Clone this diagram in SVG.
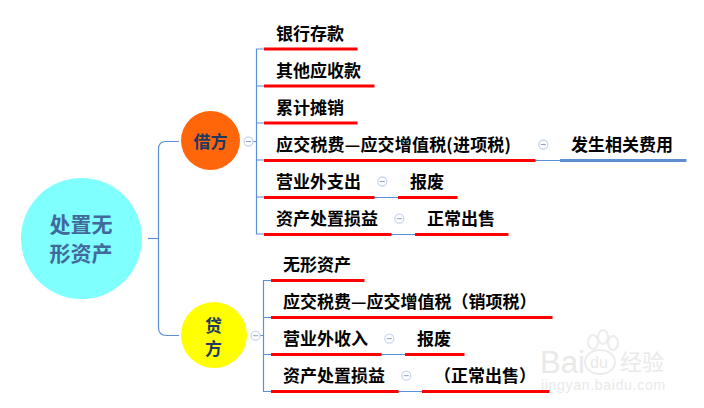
<svg xmlns="http://www.w3.org/2000/svg" width="704" height="408" viewBox="0 0 704 408">
<style>
text{font-family:"Noto Sans CJK SC","Liberation Sans",sans-serif;font-weight:700;font-size:17px;fill:#000}
.c{fill:none;stroke:#5b8fd8;stroke-width:1.2}
.r{fill:none;stroke:#ff0000;stroke-width:3}
.b{fill:none;stroke:#5b8fd0;stroke-width:3}
.i{fill:#fff;stroke:#c9d6f0;stroke-width:1.3}
.m{stroke:#8e9fc4;stroke-width:1}
.w{font-family:"Liberation Sans",sans-serif;fill:#e9e9e9;font-weight:400}
</style>
<defs>
<g id="minus"><circle class="i" r="4.5"/><line class="m" x1="-2.5" x2="2.5" y1="0" y2="0"/></g>
</defs>
<rect width="704" height="408" fill="#fff"/>
<g id="connectors">
<path class="c" d="M179 141.500H166Q158.500 141.500 158.500 149V327.500Q158.500 335.500 166.500 335.500H179"/>
<path class="c" d="M148 238.500H158.500"/>
<path class="c" d="M244 141.500H256.500M264 49H256.500V234H264M256.500 86H264M256.500 123H264M256.500 160H264M256.500 197H264"/>
<path class="c" d="M535 160.500H560M374 197.500H398M391 234.500H415"/>
<path class="c" d="M251 335.500H263.500M271 280.500H263.500V391.500H271M263.500 317.500H271M263.500 354.500H271"/>
<path class="c" d="M381 354.500H405M398 391.500H422"/>
</g>
<g id="watermark">
<ellipse cx="593" cy="342" rx="5" ry="7" fill="none" stroke="#ececec" stroke-width="2"/>
<ellipse cx="603" cy="337" rx="5" ry="7" fill="none" stroke="#ececec" stroke-width="2"/>
<ellipse cx="613" cy="343" rx="5" ry="7" fill="none" stroke="#ececec" stroke-width="2"/>
<text class="w" x="540" y="373" style="font-size:31px">Bai</text>
<ellipse cx="600" cy="362" rx="15" ry="12" fill="none" stroke="#ececec" stroke-width="2"/>
<text class="w" x="590" y="368" style="font-size:16px">du</text>
<text class="w" x="620" y="370" style="font-size:22px;font-family:'Noto Sans CJK SC',sans-serif">经验</text>
<text class="w" x="541" y="390" style="font-size:14px;letter-spacing:.7px">jingyan.baidu.com</text>
</g>
<g id="root"><circle cx="81.500" cy="238.500" r="60.500" fill="#80ffff"/>
<text x="81" y="232" text-anchor="middle" style="font-size:21px;fill:#41699c">处置无</text>
<text x="81" y="260.500" text-anchor="middle" style="font-size:21px;fill:#41699c">形资产</text></g>
<g id="jie"><circle cx="210.500" cy="140.500" r="29.500" fill="#ff6609"/>
<text x="210.500" y="148" text-anchor="middle" style="fill:#1f3864">借方</text><use href="#minus" x="248.500" y="141.500"/></g>
<g id="dai"><circle cx="214" cy="335" r="33" fill="#ffff00"/>
<text x="213.500" y="332" text-anchor="middle" style="fill:#1f3864">贷</text>
<text x="213.500" y="355" text-anchor="middle" style="fill:#1f3864">方</text><use href="#minus" x="255.500" y="335.700"/></g>
<g id="n1"><text x="276" y="40">银行存款</text><path class="r" d="M264 49H357.500"/></g>
<g id="n2"><text x="276" y="77">其他应收款</text><path class="r" d="M264 86H374.500"/></g>
<g id="n3"><text x="276" y="114">累计摊销</text><path class="r" d="M264 123H357.500"/></g>
<g id="n4"><text x="276" y="151" textLength="235">应交税费—应交增值税(进项税)</text><path class="r" d="M264 160.500H535.500"/><use href="#minus" x="543.300" y="144.500"/></g>
<g id="n4a"><text x="571" y="151">发生相关费用</text><path class="b" d="M560 160.500H686.500"/></g>
<g id="n5"><text x="276" y="188">营业外支出</text><path class="r" d="M264 197.500H374.500"/><use href="#minus" x="382.300" y="181.500"/></g>
<g id="n5a"><text x="410" y="188">报废</text><path class="r" d="M398 197.500H457.500"/></g>
<g id="n6"><text x="276" y="225">资产处置损益</text><path class="r" d="M264 234.500H391.500"/><use href="#minus" x="399.300" y="218.700"/></g>
<g id="n6a"><text x="427" y="225">正常出售</text><path class="r" d="M415 234.500H508.500"/></g>
<g id="d1"><text x="283" y="271">无形资产</text><path class="r" d="M271 280.500H364.500"/></g>
<g id="d2"><text x="283" y="308">应交税费—应交增值税（销项税）</text><path class="r" d="M271 317.500H552.500"/></g>
<g id="d3"><text x="283" y="345">营业外收入</text><path class="r" d="M271 354.500H381.500"/><use href="#minus" x="389.300" y="338.700"/></g>
<g id="d3a"><text x="417" y="345">报废</text><path class="r" d="M405 354.500H464.500"/></g>
<g id="d4"><text x="283" y="382">资产处置损益</text><path class="r" d="M271 391.500H398.500"/><use href="#minus" x="406.300" y="375.700"/></g>
<g id="d4a"><text x="434" y="382">（正常出售）</text><path class="r" d="M422 391.500H549.500"/></g>
</svg>
